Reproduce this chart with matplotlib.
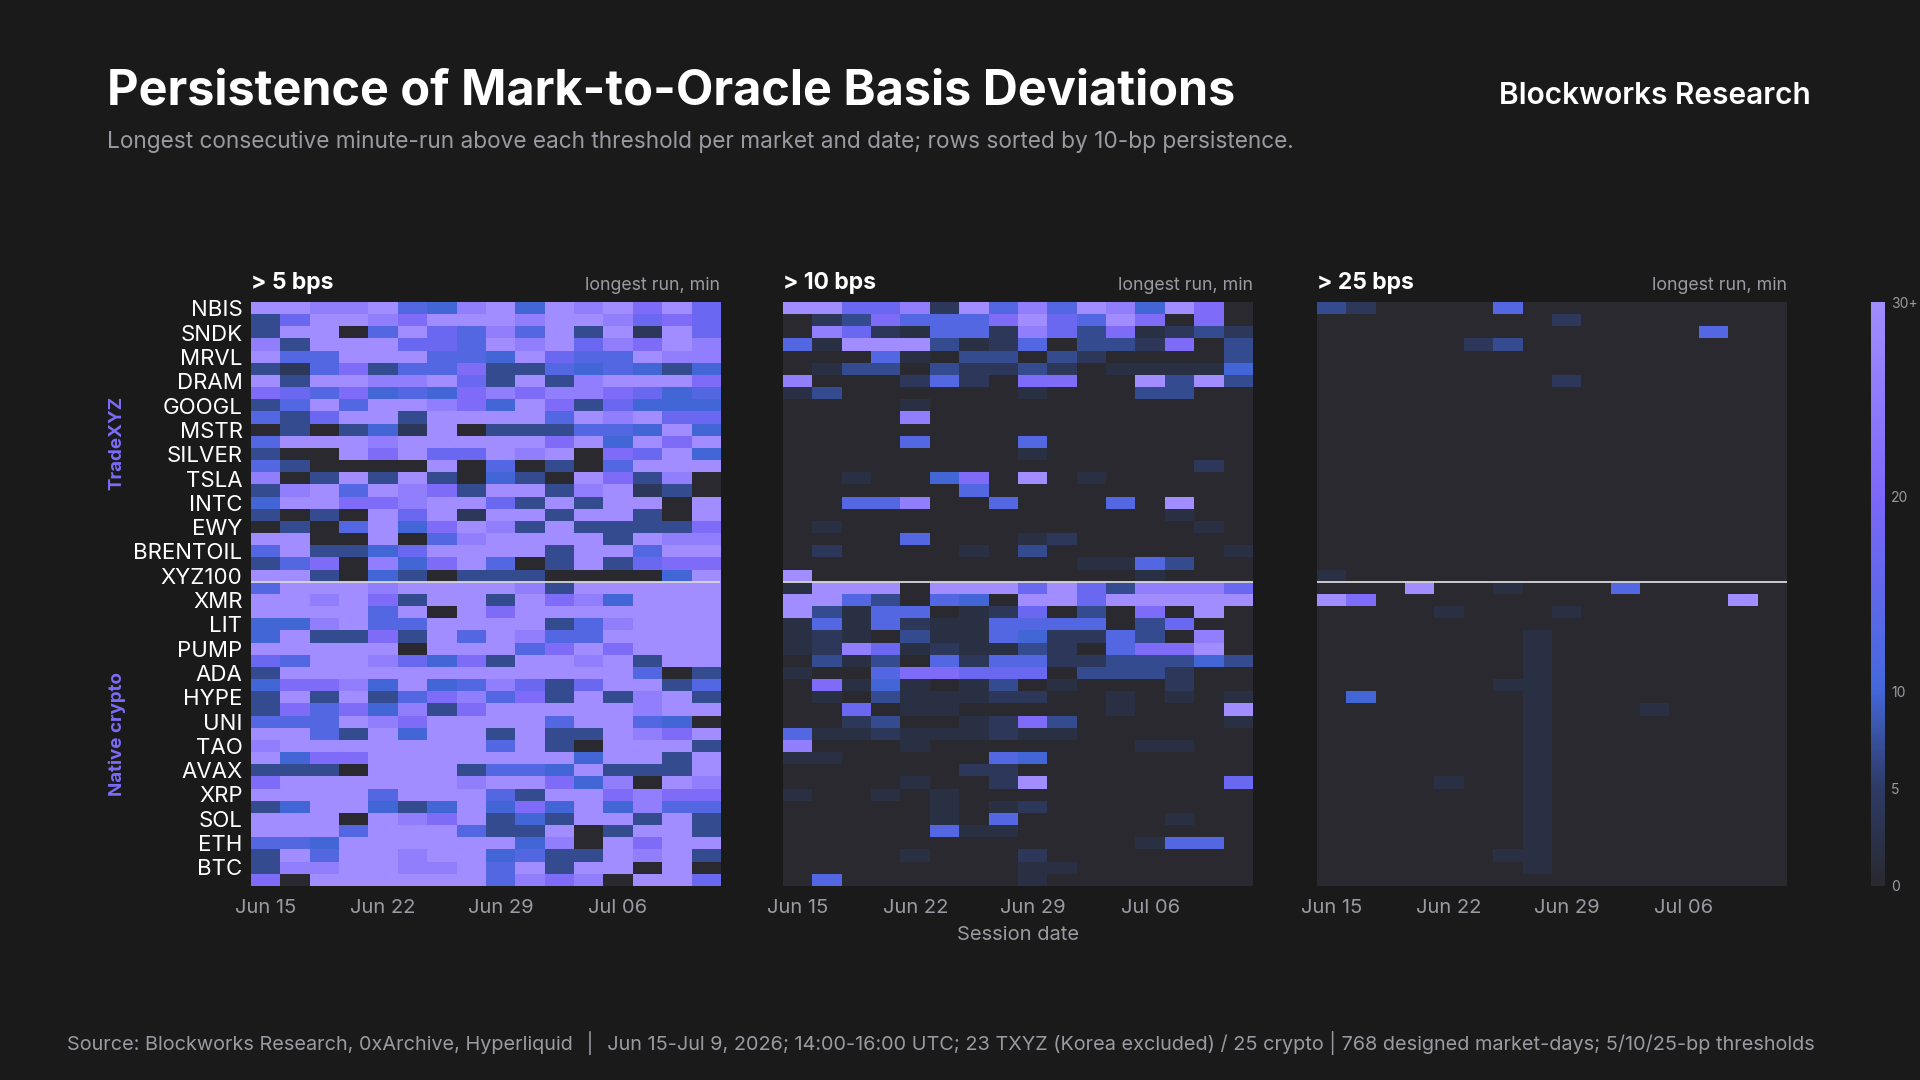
"""
Basis persistence - heatmap of longest minute-runs above thresholds
"""

import numpy as np
from typing import Dict, List
import matplotlib
matplotlib.use('Agg')  # Non-interactive backend
import matplotlib.pyplot as plt
from matplotlib.colors import LinearSegmentedColormap

plt.rcParams['font.family'] = ['Inter', 'DejaVu Sans']

# Digit code per cell -> longest run in minutes
CODE_MINUTES = [0, 2, 4, 7, 10, 13, 17, 21, 26, 30]

MARKETS = [
    'NBIS', 'SNDK', 'MRVL', 'DRAM', 'GOOGL', 'MSTR', 'SILVER', 'TSLA', 'INTC', 'EWY',
    'BRENTOIL', 'XYZ100', 'XMR', 'LIT', 'PUMP', 'ADA', 'HYPE', 'UNI', 'TAO', 'AVAX',
    'XRP', 'SOL', 'ETH', 'BTC',
]

GRIDS: Dict[str, List[str]] = {
    '> 5 bps': [
        "9988 9548 9498 9796", "3699 8799 9899 8676", "3990 5965 8593 9296",
        "8399 9665 9896 8798", "9559 9955 4965 5988", "3257 3557 3354 5434",
        "9399 8896 3938 9997", "7657 4547 8788 7645", "3595 9987 4973 6444",
        "5369 9399 9959 8966", "0303 4290 3335 5494", "5999 8999 9979 4979",
        "3009 7966 9890 7694", "5300 0090 5030 5999", "8039 3930 4309 7380",
        "3895 9873 9938 9230", "4997 7899 6393 9909", "3030 9692 9939 9309",
        "0305 9479 8393 3337", "9900 9058 9999 3988", "5933 4699 9939 9599",
        "3570 8479 5039 3677", "9930 4303 3300 0049",
        "5999 8999 9839 9999", "9989 7399 3978 4999", "9999 5909 7999 9999",
        "4489 5599 9935 8999", "4933 7395 9855 9999", "9999 9099 9579 7999",
        "6599 8647 3998 9399", "3999 9999 9999 9503", "4778 4945 8636 9935",
        "3939 3578 5739 3893", "3757 4837 9999 9899", "5559 8799 9959 9540",
        "9953 9499 3933 9879", "8999 9999 5930 9993", "9477 9999 9994 9939",
        "3330 9993 5549 3339", "7999 9998 9974 8098", "9999 5999 5399 7877",
        "3499 4349 4749 4855", "9990 9879 3439 9393", "9995 9995 3390 3993",
        "5549 9999 9480 9799", "3959 9899 4533 9893", "3889 9889 5939 9090",
        "7099 9999 5878 0996",
    ],
    '> 10 bps': [
        "9966 8295 8598 4970", "0237 5557 9659 7070", "0862 1552 8637 1232",
        "5199 9312 5033 2703", "0005 1033 0320 0003", "0133 0322 3201 1114",
        "8000 2520 7700 9393", "1300 0000 1000 3300", "0000 1000 0000 0000",
        "0000 8000 0000 0000", "0000 0000 0000 0000", "0000 5000 5000 0000",
        "0000 0000 1000 0000", "0000 0000 0000 0020", "0010 0470 9010 0000",
        "0000 0050 0000 0000", "0055 8005 0005 0900", "0000 0000 0000 0100",
        "0100 0000 0000 0010", "0000 5000 1200 0000", "0200 0010 3000 0001",
        "0000 0000 0011 5300", "9000 0000 0000 1000",
        "1999 0999 6963 8886", "9953 0540 9969 9999", "9315 5012 6030 7090",
        "1515 2115 5550 3600", "1210 3115 4225 3080", "1286 1211 3205 7790",
        "0313 0525 5223 3343", "1005 7766 6033 3200", "0714 1013 0100 0200",
        "0103 1112 2001 0101", "0060 1100 0001 0009", "0023 0012 7300 0001",
        "5112 1112 1100 0000", "8000 1000 0000 1100", "1100 0005 4000 0000",
        "0000 0022 0000 0000", "0000 1002 9000 0006", "1001 0100 0000 0000",
        "0000 0101 2000 0000", "0000 0105 0000 0100", "0000 0511 0000 0000",
        "0000 0000 0000 1550", "0000 1000 2000 0000", "0000 0000 1100 0000",
        "0500 0000 1000 0000",
    ],
    '> 25 bps': [
        "3200 0050 0000 0000", "0000 0000 2000 0000", "0000 0000 0000 0500",
        "0000 0230 0000 0000", "0000 0000 0000 0000", "0000 0000 0000 0000",
        "0000 0000 2000 0000", "0000 0000 0000 0000", "0000 0000 0000 0000",
        "0000 0000 0000 0000", "0000 0000 0000 0000", "0000 0000 0000 0000",
        "0000 0000 0000 0000", "0000 0000 0000 0000", "0000 0000 0000 0000",
        "0000 0000 0000 0000", "0000 0000 0000 0000", "0000 0000 0000 0000",
        "0000 0000 0000 0000", "0000 0000 0000 0000", "0000 0000 0000 0000",
        "0000 0000 0000 0000", "1000 0000 0000 0000",
        "0009 0010 0050 0000", "9700 0000 0000 0090", "0000 1000 1000 0000",
        "0000 0000 0000 0000", "0000 0001 0000 0000", "0000 0001 0000 0000",
        "0000 0001 0000 0000", "0000 0001 0000 0000", "0000 0011 0000 0000",
        "0400 0001 0000 0000", "0000 0001 0001 0000", "0000 0001 0000 0000",
        "0000 0001 0000 0000", "0000 0001 0000 0000", "0000 0001 0000 0000",
        "0000 0001 0000 0000", "0000 1001 0000 0000", "0000 0001 0000 0000",
        "0000 0001 0000 0000", "0000 0001 0000 0000", "0000 0001 0000 0000",
        "0000 0001 0000 0000", "0000 0011 0000 0000", "0000 0001 0000 0000",
        "0000 0000 0000 0000",
    ],
}

BG = '#1a1a1b'
GREY = '#9a9aa2'
ACCENT = '#7b6cf6'


class PersistenceChart:
    """
    Draw the three threshold heatmaps side by side
    """

    def __init__(self, n_txyz: int = 23):
        """
        Args:
            n_txyz: Number of TradeXYZ rows above the divider
        """
        self.n_txyz = n_txyz
        self.cmap = LinearSegmentedColormap.from_list(
            'basis', [(0.0, '#29292f'), (0.17, '#2d3b66'), (0.34, '#4468dc'),
                      (0.66, '#7a67f8'), (1.0, '#a18dff')])

    def decode(self, rows: List[str]) -> np.ndarray:
        """
        Turn digit strings into a minutes matrix
        """
        return np.array([[CODE_MINUTES[int(c)] for c in r.replace(' ', '')] for r in rows],
                        dtype=float)

    def render(self, output_path: str = "out.png") -> str:
        fig = plt.figure(figsize=(19.2, 10.8), dpi=100, facecolor=BG)

        fig.text(0.0555, 0.915, 'Persistence of Mark-to-Oracle Basis Deviations',
                 color='white', fontsize=35, fontweight='bold', va='center')
        fig.text(0.0555, 0.869, 'Longest consecutive minute-run above each threshold per '
                 'market and date; rows sorted by 10-bp persistence.',
                 color=GREY, fontsize=16.3, va='center')
        fig.text(0.943, 0.911, 'Blockworks Research', color='white', fontsize=21.5,
                 fontweight='semibold', ha='right', va='center')
        fig.text(0.49, 0.034, 'Source: Blockworks Research, 0xArchive, Hyperliquid  │  '
                 'Jun 15-Jul 9, 2026; 14:00-16:00 UTC; 23 TXYZ (Korea excluded) / 25 crypto'
                 ' | 768 designed market-days; 5/10/25-bp thresholds',
                 color=GREY, fontsize=14.3, ha='center', va='center')

        lefts = [0.1307, 0.408, 0.686]
        width, bottom, height = 0.2445, 0.18, 0.54
        im = None
        for i, (title, rows) in enumerate(GRIDS.items()):
            data = self.decode(rows)
            ax = fig.add_axes([lefts[i], bottom, width, height])
            ax.set_facecolor(BG)
            im = ax.imshow(data, cmap=self.cmap, vmin=0, vmax=30, aspect='auto',
                           interpolation='nearest')
            ax.axhline(self.n_txyz - 0.5, color='#d8d8d8', lw=1.3)
            for s in ax.spines.values():
                s.set_visible(False)
            ax.set_xticks([0, 4, 8, 12])
            ax.set_xticklabels(['Jun 15', 'Jun 22', 'Jun 29', 'Jul 06'])
            ax.tick_params(axis='x', colors=GREY, labelsize=14.5, length=0, pad=10)
            if i == 0:
                ax.set_yticks(np.arange(0, data.shape[0], 2))
                ax.set_yticklabels(MARKETS)
                ax.tick_params(axis='y', colors='white', labelsize=16, length=0, pad=6)
            else:
                ax.set_yticks([])
            if i == 1:
                ax.set_xlabel('Session date', color=GREY, fontsize=14.5, labelpad=6)
            ax.text(0.0, 1.015, title, transform=ax.transAxes, color='white',
                    fontsize=16.5, fontweight='bold', va='bottom')
            ax.text(1.0, 1.015, 'longest run, min', transform=ax.transAxes, color=GREY,
                    fontsize=12.8, ha='right', va='bottom')

        # Group labels
        fig.text(0.061, 0.59, 'TradeXYZ', color=ACCENT, fontsize=13.5, fontweight='bold',
                 rotation=90, ha='center', va='center')
        fig.text(0.061, 0.32, 'Native crypto', color=ACCENT, fontsize=13.5,
                 fontweight='bold', rotation=90, ha='center', va='center')

        cax = fig.add_axes([0.9745, bottom, 0.0075, height])
        cb = fig.colorbar(im, cax=cax, ticks=[0, 5, 10, 20, 30])
        cb.ax.set_yticklabels(['0', '5', '10', '20', '30+'])
        cb.outline.set_visible(False)
        cb.ax.tick_params(colors=GREY, labelsize=10, length=0, pad=4)

        plt.savefig(output_path, dpi=100, facecolor=BG)
        plt.close()

        return output_path


PersistenceChart().render("out.png")
